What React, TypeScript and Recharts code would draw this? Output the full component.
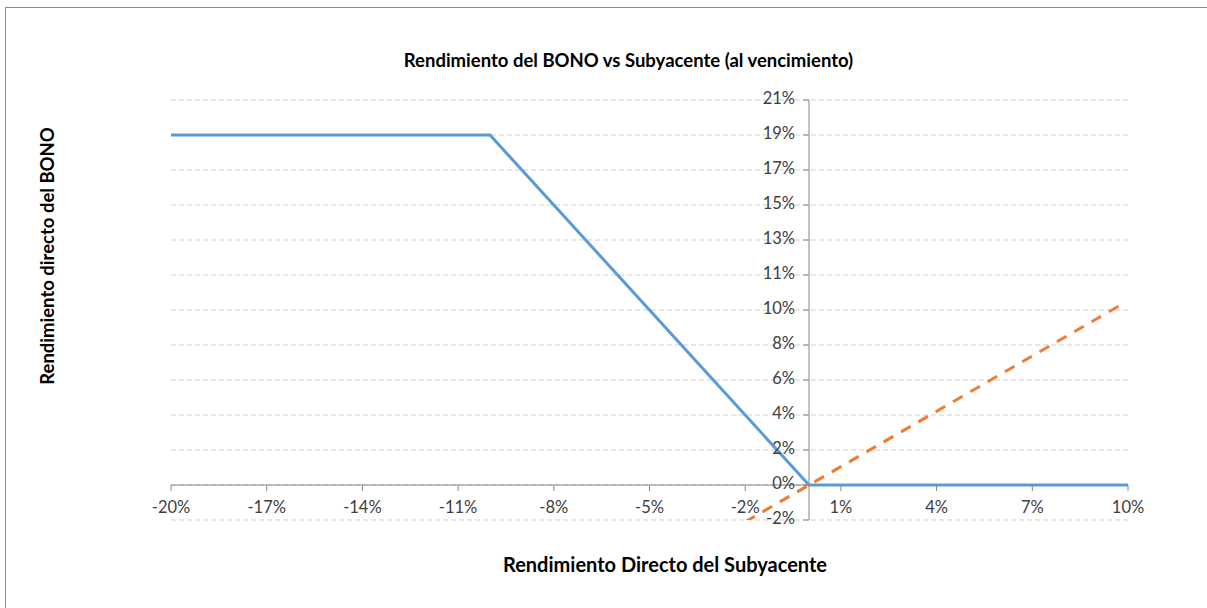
import React from "react";
import {
  LineChart,
  Line,
  XAxis,
  YAxis,
  CartesianGrid,
  ReferenceLine,
} from "recharts";

// x = rendimiento del subyacente, y = rendimiento del bono / subyacente
const xValues = [-0.2, -0.1, -0.02, 0, 0.097, 0.1];
const bonoValues = [0.19, 0.19, 0.038, 0, 0, 0];
const subyacenteValues = [null, null, -0.02, 0, 0.097, null];

const xTicks = [-0.2, -0.17, -0.14, -0.11, -0.08, -0.05, -0.02, 0.01, 0.04, 0.07, 0.1];
const yTicks = [-0.019, 0, 0.019, 0.038, 0.057, 0.076, 0.095, 0.114, 0.133, 0.152, 0.171, 0.19, 0.209];
const yTickLabels = ["-2%", "0%", "2%", "4%", "6%", "8%", "10%", "11%", "13%", "15%", "17%", "19%", "21%"];

const data = xValues.map((x, i) => ({
  x,
  bono: bonoValues[i],
  sub: subyacenteValues[i],
}));

const W = 1207;
const H = 608;
const PLOT_LEFT = 171;
const PLOT_TOP = 100;
const PLOT_W = 957;
const PLOT_H = 420;
const X_AXIS_H = 30;
const Y_AXIS_W = 60;
const X_DOMAIN: [number, number] = [-0.2, 0.1];
const Y_DOMAIN: [number, number] = [-0.019, 0.209];

// where the axes cross (value 0 on each axis)
const zeroX = PLOT_LEFT + (PLOT_W * (0 - X_DOMAIN[0])) / (X_DOMAIN[1] - X_DOMAIN[0]);
const zeroY = PLOT_TOP + (PLOT_H * (Y_DOMAIN[1] - 0)) / (Y_DOMAIN[1] - Y_DOMAIN[0]);

const FONT = "Lato, 'Open Sans', sans-serif";
const AXIS_COLOR = "#868686";
const TEXT_COLOR = "#404040";
const TICK_SIZE = 16.5;

const renderXTick = (props: any) => {
  const { x, payload } = props;
  return (
    <g key={"xt" + payload.value}>
      <line x1={x} x2={x} y1={zeroY} y2={zeroY + 6} stroke={AXIS_COLOR} strokeWidth={1} />
      <text
        x={x}
        y={zeroY + 24}
        textAnchor="middle"
        dominantBaseline="middle"
        fill={TEXT_COLOR}
        fontSize={TICK_SIZE}
        fontFamily={FONT}
      >
        {Math.round(payload.value * 100) + "%"}
      </text>
    </g>
  );
};

const renderYTick = (props: any) => {
  const { y, payload, index } = props;
  return (
    <g key={"yt" + payload.value}>
      <line x1={zeroX - 6} x2={zeroX} y1={y} y2={y} stroke={AXIS_COLOR} strokeWidth={1} />
      <text
        x={zeroX - 14}
        y={y}
        textAnchor="end"
        dominantBaseline="middle"
        fill={TEXT_COLOR}
        fontSize={TICK_SIZE}
        fontFamily={FONT}
      >
        {yTickLabels[index] ?? Math.round(payload.value * 100) + "%"}
      </text>
    </g>
  );
};

const App = () => {
  return (
    <div
      style={{
        position: "absolute",
        left: 0,
        top: 0,
        width: W,
        height: H,
        overflow: "hidden",
        background: "#fff",
        fontFamily: FONT,
      }}
    >
      {/* chart frame, runs off the right and bottom edge */}
      <div
        style={{
          position: "absolute",
          left: 5,
          top: 7,
          width: W + 20,
          height: H + 20,
          border: "1px solid #8c8c8c",
          boxSizing: "border-box",
        }}
      />
      <div style={{ position: "absolute", left: 0, top: 0 }}>
        <LineChart
          width={W}
          height={H}
          data={data}
          margin={{
            top: PLOT_TOP,
            left: PLOT_LEFT - Y_AXIS_W,
            right: W - PLOT_LEFT - PLOT_W,
            bottom: H - PLOT_TOP - PLOT_H - X_AXIS_H,
          }}
        >
          <CartesianGrid
            vertical={false}
            stroke="#cfcfcf"
            strokeDasharray="5 3"
          />
          <XAxis
            type="number"
            dataKey="x"
            domain={X_DOMAIN}
            ticks={xTicks}
            axisLine={false}
            tickLine={false}
            height={X_AXIS_H}
            interval={0}
            tick={renderXTick}
          />
          <YAxis
            type="number"
            domain={Y_DOMAIN}
            ticks={yTicks}
            allowDataOverflow
            axisLine={false}
            tickLine={false}
            width={Y_AXIS_W}
            interval={0}
            tick={renderYTick}
          />
          <ReferenceLine x={0} stroke={AXIS_COLOR} strokeWidth={1} />
          <ReferenceLine y={0} stroke={AXIS_COLOR} strokeWidth={1} />
          <Line
            type="linear"
            dataKey="bono"
            stroke="#5b9bd5"
            strokeWidth={3}
            dot={false}
            connectNulls
            isAnimationActive={false}
          />
          <Line
            type="linear"
            dataKey="sub"
            stroke="#ed7d31"
            strokeWidth={3}
            strokeDasharray="11 9"
            dot={false}
            connectNulls
            isAnimationActive={false}
          />
        </LineChart>
      </div>
      <div
        style={{
          position: "absolute",
          left: 0,
          width: 1257,
          top: 49,
          textAlign: "center",
          fontWeight: 700,
          fontSize: 18.5,
          color: "#000",
        }}
      >
        Rendimiento del BONO vs Subyacente (al vencimiento)
      </div>
      <div
        style={{
          position: "absolute",
          left: 0,
          width: 1330,
          top: 552,
          textAlign: "center",
          fontWeight: 700,
          fontSize: 20,
          color: "#000",
        }}
      >
        Rendimiento Directo del Subyacente
      </div>
      <div
        style={{
          position: "absolute",
          left: 47,
          top: 256,
          transform: "translate(-50%, -50%) rotate(-90deg)",
          whiteSpace: "nowrap",
          fontWeight: 700,
          fontSize: 18.5,
          color: "#000",
        }}
      >
        Rendimiento directo del BONO
      </div>
    </div>
  );
};

export default App;
